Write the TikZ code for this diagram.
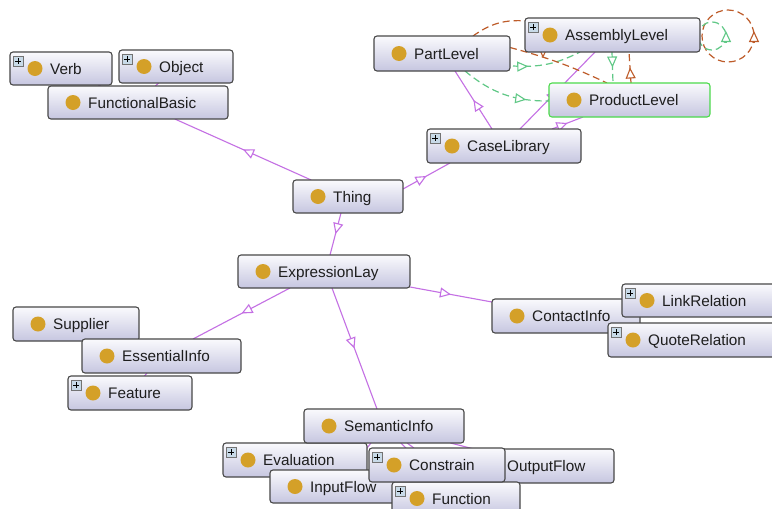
\documentclass[tikz,border=0pt]{standalone}
\usepackage{fontspec}
\setmainfont{Liberation Sans}
\usetikzlibrary{arrows.meta,calc,decorations.markings}
\definecolor{purp}{RGB}{196,112,228}
\definecolor{brownc}{RGB}{190,92,42}
\definecolor{greenc}{RGB}{96,200,134}
\definecolor{dotcol}{RGB}{212,160,40}
\definecolor{bordc}{RGB}{72,72,72}
\definecolor{boxtop}{RGB}{250,250,253}
\definecolor{boxbot}{RGB}{198,198,224}
\definecolor{prodgreen}{RGB}{76,218,76}
\definecolor{txtc}{RGB}{30,30,30}
\definecolor{plusfill}{RGB}{200,218,232}
\pgfdeclarelayer{background}
\pgfsetlayers{background,main}
\tikzset{
  clsbox/.style={rectangle, draw=bordc, line width=1.1pt, rounded corners=3pt,
    top color=boxtop, bottom color=boxbot, inner sep=0pt, outer sep=0pt},
  clstext/.style={anchor=base west, inner sep=0pt, font=\fontsize{15.3}{18}\selectfont, text=txtc},
  dotc/.style={fill=dotcol},
  plusbox/.style={draw=black!55, fill=plusfill, line width=0.6pt},
  plusln/.style={draw=black, line width=0.9pt},
  tri/.tip={Triangle[fill=white,length=11pt,width=10pt]},
  isa/.style={draw=purp, line width=1.1pt,
    decoration={markings, mark=at position #1 with {\arrow[purp, line width=1.1pt, solid]{tri}}},
    postaction={decorate}},
  isa/.default=0.5,
  plainisa/.style={draw=purp, line width=1.1pt},
  gdash/.style={draw=greenc, line width=1.2pt, dash pattern=on 7pt off 4pt,
    decoration={markings, mark=at position #1 with {\arrow[greenc, line width=1.1pt, solid]{tri}}},
    postaction={decorate}},
  gdash/.default=0.5,
  bdash/.style={draw=brownc, line width=1.2pt, dash pattern=on 7pt off 4pt,
    decoration={markings, mark=at position #1 with {\arrow[brownc, line width=1.1pt, solid]{tri}}},
    postaction={decorate}},
  bdash/.default=0.5,
  gloop/.style={draw=greenc, line width=1.2pt, dash pattern=on 7pt off 4pt},
  bloop/.style={draw=brownc, line width=1.2pt, dash pattern=on 7pt off 4pt},
}
\newcommand\owlcls[7][]{%
  \node[clsbox,#1, minimum width={#5-#3}, minimum height={#6-#4}] (#2) at ({(#3+#5)/2},{(#4+#6)/2}) {};
  \fill[dotc] ($(#2.west)+(25,0)$) circle (7.5);
  \node[clstext] at ($(#2.west)+(40,5.5)$) {#7};
}
\newcommand\owlplus[1]{%
  \draw[plusbox] ($(#1.north west)+(3,4)$) rectangle ++(10,10);
  \draw[plusln] ($(#1.north west)+(5,9)$) -- ++(6,0) ($(#1.north west)+(8,6)$) -- ++(0,6);
}
\begin{document}
\begin{tikzpicture}[x=1pt,y=-1pt]
\useasboundingbox (0,0) rectangle (772,509);
\clip (0,0) rectangle (772,509);
% classes
\owlcls{verb}{10}{52}{112}{85}{Verb}\owlplus{verb}
\owlcls{object}{119}{50}{233}{83}{Object}\owlplus{object}
\owlcls{fb}{48}{86}{228}{119}{FunctionalBasic}
\owlcls{partlevel}{374}{36}{510}{71}{PartLevel}
\owlcls{assembly}{525}{18}{700}{52}{AssemblyLevel}\owlplus{assembly}
\owlcls[draw=prodgreen]{product}{549}{83}{710}{117}{ProductLevel}
\owlcls{caselib}{427}{129}{581}{163}{CaseLibrary}\owlplus{caselib}
\owlcls{thing}{293}{180}{403}{213}{Thing}
\owlcls{explay}{238}{255}{410}{288}{ExpressionLay}
\owlcls{supplier}{13}{307}{139}{341}{Supplier}
\owlcls{essential}{82}{339}{241}{373}{EssentialInfo}
\owlcls{feature}{68}{376}{192}{410}{Feature}\owlplus{feature}
\owlcls{contact}{492}{299}{640}{333}{ContactInfo}
\owlcls{link}{622}{284}{778}{317}{LinkRelation}\owlplus{link}
\owlcls{quote}{608}{323}{778}{357}{QuoteRelation}\owlplus{quote}
\owlcls{evaluation}{223}{443}{367}{477}{Evaluation}\owlplus{evaluation}
\owlcls{outputflow}{467}{449}{614}{483}{OutputFlow}
\owlcls{inputflow}{270}{470}{405}{503}{InputFlow}
\owlcls{function}{392}{482}{520}{515}{Function}\owlplus{function}
\owlcls{constrain}{369}{448}{505}{482}{Constrain}\owlplus{constrain}
\owlcls{semantic}{304}{409}{464}{443}{SemanticInfo}
\begin{pgfonlayer}{background}
\fill[white] (0,0) rectangle (772,509);
% hidden subclass edges
\draw[plainisa] (fb) -- (verb);
\draw[plainisa] (fb) -- (object);
\draw[plainisa] (essential) -- (supplier);
\draw[plainisa] (essential) -- (feature);
\draw[plainisa] (contact) -- (link);
\draw[plainisa] (contact) -- (quote);
\draw[plainisa] (semantic) -- (evaluation);
\draw[plainisa] (semantic) -- (inputflow);
\draw[plainisa] (semantic) -- (constrain);
\draw[plainisa] (semantic) -- (outputflow);
\draw[plainisa] (semantic) -- (function);
% visible subclass edges
\draw[isa] (thing) -- (fb);
\draw[isa] ($(thing.east)+(0,-7.5)$) -- ($(caselib.south west)+(23,0)$);
\draw[isa] ($(thing.south)+(-7,0)$) -- ($(explay.north)+(6,0)$);
\draw[isa] ($(explay.south west)+(52,0)$) -- ($(essential.north west)+(111,0)$);
\draw[isa] ($(explay.south west)+(94,0)$) -- ($(semantic.north west)+(73,0)$);
\draw[isa] ($(explay.south east)+(0,-1)$) -- ($(contact.north west)+(0,3)$);
\draw[isa] ($(caselib.north west)+(65,0)$) -- ($(partlevel.south west)+(81,0)$);
\draw[isa] ($(caselib.north west)+(93,0)$) -- ($(assembly.south west)+(70,0)$);
\draw[isa] ($(caselib.north west)+(125,0)$) -- ($(product.south west)+(34,0)$);
% object property edges
\draw[gdash=0.22] ($(partlevel.south east)+(3,-5)$) to[bend right=15] ($(assembly.south west)+(55,0)$);
\draw[gdash=0.75] ($(partlevel.south west)+(91,0)$) to[bend right=20] ($(product.west)+(0,1)$);
\draw[gdash] ($(assembly.south west)+(87,0)$) -- ($(product.north west)+(64,0)$);
\draw[bdash] ($(product.north west)+(82,0)$) -- ($(assembly.south west)+(104,0)$);
\draw[bloop] ($(partlevel.north west)+(99,0)$) to[bend left=20] ($(assembly.north west)+(2,3)$);
\draw[bloop] ($(partlevel.east)+(0,-6)$) to[bend left=5] ($(product.north west)+(58,0)$);
\draw[brownc, line width=1.1pt, -{tri}] ($(assembly.south west)+(18,-8)$) -- ($(assembly.south west)+(18,6)$);
% self loops
\draw[bloop] ($(assembly.east)+(28,1)$) circle (26);
\draw[brownc, line width=1.1pt, -{tri}] ($(assembly.east)+(54,8)$) -- ($(assembly.east)+(54,-4)$);
\draw[gloop] ($(assembly.east)+(12,1)$) circle (14);
\draw[greenc, line width=1.1pt, -{tri}] ($(assembly.east)+(26,8)$) -- ($(assembly.east)+(26,-4)$);
\end{pgfonlayer}
\end{tikzpicture}
\end{document}
